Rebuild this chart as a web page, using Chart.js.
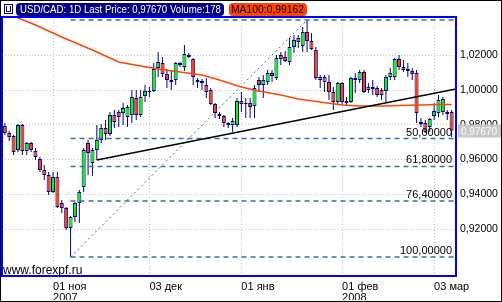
<!DOCTYPE html>
<html>
<head>
<meta charset="utf-8">
<script src="https://cdn.jsdelivr.net/npm/chart.js@4"></script>
<style>
  html, body { margin: 0; padding: 0; background: #fff; }
</style>
</head>
<body>
<canvas id="chart" width="502" height="302"></canvas>
<script>
// USD/CAD daily candles, 17 Oct 2007 .. 07 Mar 2008 (one entry per trading day)
const opens = [
  0.9793, 0.9753, 0.9735, 0.9655, 0.9799, 0.9649, 0.9695, 0.9649, 0.9603, 0.9540,
  0.9511, 0.9413, 0.9499, 0.9350, 0.9321, 0.9206, 0.9269, 0.9350, 0.9442, 0.9695,
  0.9580, 0.9655, 0.9712, 0.9781, 0.9747, 0.9856, 0.9873, 0.9868, 0.9845, 0.9856,
  0.9954, 0.9856, 0.9965, 0.9988, 0.9994, 1.0127, 1.0155, 1.0092, 1.0058, 1.0058,
  1.0155, 1.0132, 1.0201, 1.0178, 1.0058, 1.0052, 1.0029, 1.0000, 0.9919, 0.9862,
  0.9850, 0.9810, 0.9799, 0.9799, 0.9937, 0.9925, 0.9925, 0.9908, 1.0058, 1.0029,
  1.0046, 1.0098, 1.0069, 1.0201, 1.0190, 1.0161, 1.0247, 1.0299, 1.0253, 1.0334,
  1.0282, 1.0230, 1.0058, 1.0075, 1.0046, 0.9988, 0.9931, 1.0040, 0.9925, 0.9931,
  1.0069, 1.0058, 1.0104, 1.0000, 1.0017, 1.0012, 1.0000, 0.9994, 1.0075, 1.0075,
  1.0178, 1.0132, 1.0121, 1.0109, 1.0098, 0.9816, 0.9810, 0.9787, 0.9850, 0.9868,
  0.9873, 0.9862, 0.9873
];
const highs = [
  0.9810, 0.9764, 0.9741, 0.9804, 0.9804, 0.9701, 0.9701, 0.9666, 0.9614, 0.9568,
  0.9528, 0.9528, 0.9528, 0.9367, 0.9327, 0.9275, 0.9355, 0.9425, 0.9666, 0.9712,
  0.9666, 0.9799, 0.9804, 0.9827, 0.9873, 0.9885, 0.9885, 0.9925, 0.9914, 1.0000,
  1.0000, 1.0000, 1.0029, 1.0017, 1.0155, 1.0219, 1.0190, 1.0121, 1.0115, 1.0161,
  1.0161, 1.0259, 1.0213, 1.0184, 1.0069, 1.0063, 1.0069, 1.0012, 0.9925, 0.9873,
  0.9856, 0.9816, 0.9839, 0.9954, 0.9988, 0.9954, 0.9954, 1.0029, 1.0075, 1.0086,
  1.0115, 1.0115, 1.0201, 1.0219, 1.0224, 1.0299, 1.0317, 1.0317, 1.0363, 1.0403,
  1.0328, 1.0247, 1.0086, 1.0086, 1.0086, 1.0017, 1.0046, 1.0046, 0.9960, 1.0075,
  1.0098, 1.0115, 1.0115, 1.0040, 1.0058, 1.0023, 1.0012, 1.0086, 1.0127, 1.0184,
  1.0201, 1.0173, 1.0155, 1.0127, 1.0115, 0.9839, 0.9827, 0.9839, 0.9925, 0.9971,
  0.9960, 0.9885, 0.9885
];
const lows = [
  0.9741, 0.9706, 0.9626, 0.9643, 0.9626, 0.9626, 0.9643, 0.9597, 0.9528, 0.9482,
  0.9396, 0.9407, 0.9321, 0.9292, 0.9194, 0.9039, 0.9240, 0.9235, 0.9413, 0.9511,
  0.9505, 0.9597, 0.9695, 0.9712, 0.9735, 0.9781, 0.9787, 0.9799, 0.9787, 0.9810,
  0.9827, 0.9845, 0.9931, 0.9960, 0.9988, 1.0075, 1.0075, 1.0012, 1.0000, 1.0029,
  1.0132, 1.0109, 1.0184, 1.0029, 1.0012, 1.0000, 0.9954, 0.9914, 0.9839, 0.9833,
  0.9787, 0.9781, 0.9758, 0.9787, 0.9873, 0.9839, 0.9839, 0.9839, 0.9988, 0.9954,
  1.0029, 1.0046, 1.0058, 1.0144, 1.0161, 1.0144, 1.0213, 1.0242, 1.0219, 1.0219,
  1.0230, 1.0058, 1.0012, 0.9988, 0.9942, 0.9885, 0.9914, 0.9914, 0.9914, 0.9925,
  0.9983, 1.0040, 0.9983, 0.9983, 0.9971, 0.9960, 0.9942, 0.9925, 1.0058, 1.0058,
  1.0115, 1.0104, 1.0075, 1.0058, 0.9810, 0.9787, 0.9753, 0.9758, 0.9827, 0.9845,
  0.9856, 0.9827, 0.9730
];
const closes = [
  0.9753, 0.9730, 0.9643, 0.9799, 0.9649, 0.9695, 0.9655, 0.9614, 0.9540, 0.9511,
  0.9413, 0.9499, 0.9327, 0.9321, 0.9206, 0.9269, 0.9350, 0.9413, 0.9655, 0.9637,
  0.9655, 0.9712, 0.9781, 0.9747, 0.9856, 0.9816, 0.9845, 0.9896, 0.9902, 0.9960,
  0.9856, 0.9960, 0.9994, 0.9994, 1.0121, 1.0161, 1.0092, 1.0058, 1.0046, 1.0155,
  1.0144, 1.0207, 1.0190, 1.0075, 1.0046, 1.0040, 0.9988, 0.9919, 0.9868, 0.9850,
  0.9810, 0.9799, 0.9822, 0.9937, 0.9919, 0.9919, 0.9902, 1.0012, 1.0029, 1.0058,
  1.0098, 1.0081, 1.0184, 1.0178, 1.0167, 1.0247, 1.0288, 1.0276, 1.0334, 1.0282,
  1.0236, 1.0069, 1.0075, 1.0046, 0.9988, 0.9931, 1.0040, 0.9931, 0.9937, 1.0069,
  1.0058, 1.0104, 0.9988, 1.0017, 1.0006, 0.9971, 0.9971, 1.0075, 1.0098, 1.0178,
  1.0132, 1.0115, 1.0109, 1.0092, 0.9868, 0.9804, 0.9758, 0.9833, 0.9879, 0.9942,
  0.9948, 0.9873, 0.9767
];

// x axis: candle index of the labelled days
const xTickIdx = [11, 33, 54, 77, 98];
const xTickLabels = [['01 ноя', '2007'], '03 дек', '01 янв', ['01 фев', '2008'], '03 мар'];
const yTicks = [0.92, 0.94, 0.96, 0.98, 1.00, 1.02];

// MA100
const maIdx = [0, 2, 7, 13, 20, 26, 31, 35, 40, 45, 49, 54, 58, 63, 67, 72, 77, 81, 86, 90, 95, 99, 102];
const maVals = [1.0450, 1.0425, 1.0374, 1.0305, 1.0230, 1.0161, 1.0138, 1.0121, 1.0104, 1.0086, 1.0058,
  1.0017, 0.9994, 0.9971, 0.9948, 0.9931, 0.9914, 0.9908, 0.9908, 0.9911, 0.9914, 0.9917, 0.9916];

// support line
const trendIdx = [21, 103];
const trendVals = [0.9597, 1.0006];

// fibonacci retracement from the Nov low to the Jan high
const fibIdx = [15, 69];
const fibVals = [0.9039, 1.0403];
const fibLevels = [1.0403, 0.9721, 0.9560, 0.9361, 0.9039];
const fibLabels = ['0,00000', '50,00000', '61,80000', '76,40000', '100,00000'];

const lastPrice = 0.9767;
const maLast = 0.99162;

const FONT = '"Liberation Sans", Arial, sans-serif';
const NAVY = '#000080';
const FIB_BLUE = '#3a6ea8';

const idx = opens.map((_, i) => i);
const wicks = idx.map(i => ({ x: i, y: [lows[i], highs[i]] }));
const bodies = idx.map(i => ({ x: i, y: [opens[i], closes[i]] }));
const bodyColors = idx.map(i => closes[i] >= opens[i] ? '#00ff00' : '#ff4000');

const fmt = v => v.toFixed(5).replace('.', ',');

// squeeze a label into a given width (the original uses a narrow bitmap font)
function fitText(ctx, text, x, y, maxW) {
  const w = ctx.measureText(text).width;
  const k = Math.min(1, maxW / w);
  ctx.save();
  ctx.translate(x, y);
  ctx.scale(k, 1);
  ctx.fillText(text, 0, 0);
  ctx.restore();
}

const lineSet = (data, color, width, dash, order) => ({
  type: 'line',
  data,
  borderColor: color,
  borderWidth: width,
  borderDash: dash,
  pointRadius: 0,
  tension: 0,
  fill: false,
  order,
});

const fibLines = fibLevels.map(v => lineSet(
  [{ x: fibIdx[0], y: v }, { x: 104, y: v }], FIB_BLUE, 1.5, [5, 4], 3
));

const decorations = {
  id: 'decorations',
  beforeDraw(chart) {
    const ctx = chart.ctx;
    ctx.save();
    ctx.fillStyle = '#fff';
    ctx.fillRect(0, 0, chart.width, chart.height);
    ctx.restore();
  },
  afterDraw(chart) {
    const ctx = chart.ctx;
    const a = chart.chartArea;
    const y = chart.scales.y;
    ctx.save();

    // fibo labels, clipped to the plot
    ctx.save();
    ctx.beginPath();
    ctx.rect(a.left, a.top, a.right - a.left, a.bottom - a.top);
    ctx.clip();
    ctx.font = '11px ' + FONT;
    ctx.fillStyle = '#000';
    ctx.textAlign = 'right';
    ctx.textBaseline = 'alphabetic';
    fibLevels.forEach((v, i) => {
      ctx.fillText(fibLabels[i], a.right - 4, y.getPixelForValue(v) - 3);
    });
    ctx.font = '12px ' + FONT;
    ctx.textAlign = 'left';
    ctx.fillText('www.forexpf.ru', a.left + 1, a.bottom - 2);
    ctx.restore();

    // plot frame
    ctx.strokeStyle = '#0000ff';
    ctx.lineWidth = 2;
    ctx.strokeRect(a.left, a.top, a.right - a.left, a.bottom - a.top);

    // last price marker
    const py = y.getPixelForValue(lastPrice);
    ctx.fillStyle = '#c8c8c8';
    ctx.fillRect(a.right + 2, py - 6, 44, 13);
    ctx.fillStyle = '#fff';
    ctx.font = '11px ' + FONT;
    ctx.textBaseline = 'middle';
    ctx.textAlign = 'left';
    fitText(ctx, fmt(lastPrice), a.right + 5, py + 1, 36);

    // header boxes
    ctx.fillStyle = NAVY;
    ctx.beginPath();
    ctx.roundRect(16, 3, 208, 13, 4);
    ctx.fill();
    ctx.fillStyle = '#fff';
    fitText(ctx, 'USD/CAD: 1D Last Price: ' + fmt(lastPrice) + ' Volume:178', 20, 10, 201);

    ctx.fillStyle = '#ff4500';
    ctx.beginPath();
    ctx.roundRect(229, 3, 78, 13, 4);
    ctx.fill();
    ctx.fillStyle = '#000';
    fitText(ctx, 'MA100:' + fmt(maLast), 231, 10, 73);

    // small icon
    ctx.fillStyle = '#fff';
    ctx.fillRect(4, 4, 9, 10);
    ctx.strokeStyle = NAVY;
    ctx.lineWidth = 1;
    ctx.strokeRect(4.5, 4.5, 8, 9);
    ctx.beginPath();
    ctx.moveTo(6.5, 6); ctx.lineTo(6.5, 11.5); ctx.lineTo(10.5, 11.5); ctx.lineTo(10.5, 6);
    ctx.stroke();

    // outer frame
    ctx.strokeStyle = '#000';
    ctx.lineWidth = 1;
    ctx.strokeRect(0.5, 0.5, chart.width - 1, chart.height - 1);
    ctx.restore();
  },
};

new Chart(document.getElementById('chart'), {
  type: 'bar',
  data: {
    datasets: [
      {
        label: 'body',
        data: bodies,
        backgroundColor: bodyColors,
        borderColor: NAVY,
        borderWidth: 1,
        borderSkipped: false,
        barThickness: 4,
        grouped: false,
        inflateAmount: 0,
        order: 4,
      },
      {
        label: 'wick',
        data: wicks,
        backgroundColor: NAVY,
        borderWidth: 0,
        barThickness: 1,
        grouped: false,
        inflateAmount: 0,
        order: 5,
      },
      ...fibLines,
      lineSet(fibIdx.map((x, i) => ({ x, y: fibVals[i] })), FIB_BLUE, 1, [2, 3], 2),
      lineSet(maIdx.map((x, i) => ({ x, y: maVals[i] })), '#ff4500', 1.5, [], 1),
      lineSet(trendIdx.map((x, i) => ({ x, y: trendVals[i] })), '#000', 1.5, [], 0),
    ],
  },
  options: {
    responsive: false,
    animation: false,
    devicePixelRatio: 1,
    layout: { padding: { left: 2, top: 17, right: 0, bottom: 2 } },
    plugins: { legend: { display: false }, tooltip: { enabled: false } },
    scales: {
      x: {
        type: 'linear',
        offset: false,
        min: -0.65,
        max: 103,
        afterBuildTicks: s => { s.ticks = xTickIdx.map(v => ({ value: v })); },
        afterFit: s => { s.height = 24; },
        grid: { color: '#c4c4c4', drawTicks: false, offset: false },
        border: { display: false, dash: [1, 2] },
        ticks: {
          autoSkip: false,
          maxRotation: 0,
          align: 'start',
          padding: 5,
          color: '#000',
          font: { family: FONT, size: 11, lineHeight: 1 },
          callback: v => xTickLabels[xTickIdx.indexOf(v)],
        },
      },
      y: {
        position: 'right',
        min: 0.8930,
        max: 1.0420,
        afterBuildTicks: s => { s.ticks = yTicks.map(v => ({ value: v })); },
        afterFit: s => { s.width = 46; },
        grid: { color: '#c4c4c4', drawTicks: false },
        border: { display: false, dash: [1, 2] },
        ticks: {
          padding: 4,
          color: '#000',
          font: { family: FONT, size: 10.5 },
          callback: v => fmt(v),
        },
      },
    },
  },
  plugins: [decorations],
});
</script>
</body>
</html>
